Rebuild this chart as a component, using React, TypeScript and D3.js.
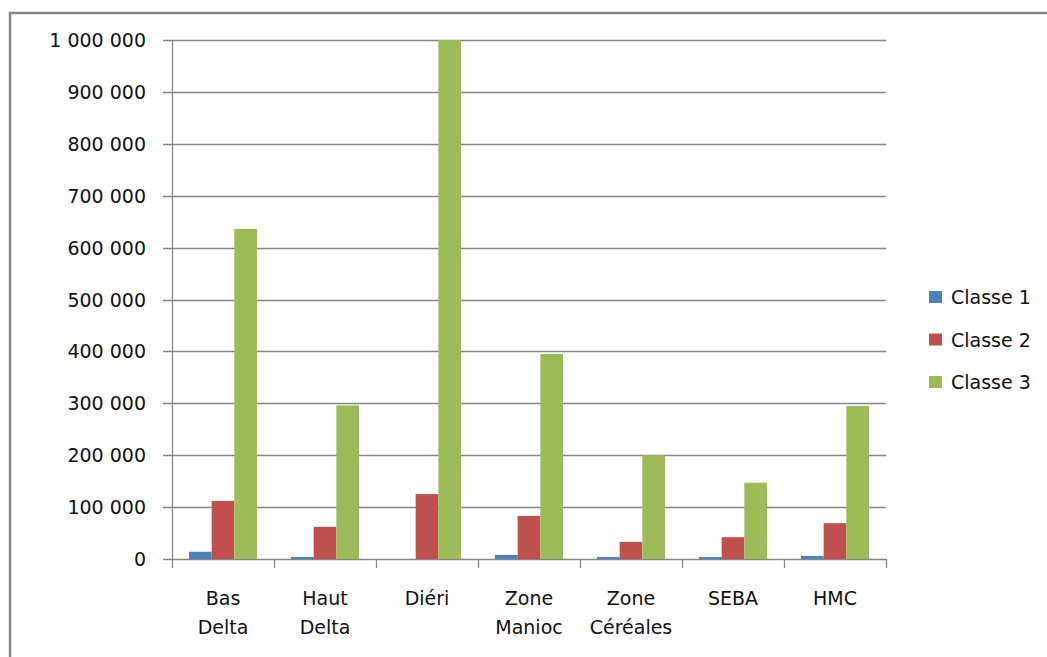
import { useEffect, useRef } from "react";
import * as d3 from "d3";

const categories = [
  ["Bas", "Delta"],
  ["Haut", "Delta"],
  ["Diéri"],
  ["Zone", "Manioc"],
  ["Zone", "Céréales"],
  ["SEBA"],
  ["HMC"],
];
const seriesNames = ["Classe 1", "Classe 2", "Classe 3"];
const classe1 = [14000, 4000, 0, 8000, 4000, 4000, 6000];
const classe2 = [112000, 62000, 125000, 83000, 33000, 42000, 69000];
const classe3 = [636000, 296000, 1000000, 395000, 200000, 147000, 295000];
const yTicks = [0, 100000, 200000, 300000, 400000, 500000, 600000, 700000, 800000, 900000, 1000000];
const colors = ["#4F81BD", "#C0504D", "#9BBB59"];

const App = () => {
  const chartRef = useRef<SVGSVGElement>(null);

  useEffect(() => {
    const width = 1047;
    const height = 657;
    const plot = { left: 172, right: 886, top: 40, bottom: 559 };
    const gridColor = "#868686";
    const font = "'DejaVu Sans', sans-serif";

    const svg = d3.select(chartRef.current);
    svg.selectAll("*").remove();

    // outer frame (only top and left edges are visible)
    svg
      .append("path")
      .attr("d", `M10,${height} L10,13 L${width},13`)
      .attr("fill", "none")
      .attr("stroke", gridColor)
      .attr("stroke-width", 2.5);

    const labels = categories.map((c) => c.join(" "));
    const x = d3.scaleBand().domain(labels).range([plot.left, plot.right]).padding(0);
    const bw = x.bandwidth();
    // gap width 150%: 3 bars + 1.5 bar of gap in each category
    const barW = bw / 4.5;
    const offset = (bw - barW * 3) / 2;
    const xs = d3.scaleBand().domain(seriesNames).range([offset, offset + barW * 3]);

    const y = d3.scaleLinear().domain([0, 1000000]).range([plot.bottom, plot.top]);

    // gridlines
    svg
      .selectAll(".grid")
      .data(yTicks)
      .enter()
      .append("line")
      .attr("x1", plot.left - 9)
      .attr("x2", plot.right)
      .attr("y1", (d) => Math.round(y(d)) + 0.5)
      .attr("y2", (d) => Math.round(y(d)) + 0.5)
      .attr("stroke", gridColor)
      .attr("stroke-width", 1.3);

    // y labels
    svg
      .selectAll(".ylab")
      .data(yTicks)
      .enter()
      .append("text")
      .attr("x", 146)
      .attr("y", (d) => y(d) + 7)
      .attr("text-anchor", "end")
      .attr("font-family", font)
      .attr("font-size", 19)
      .attr("fill", "#111")
      .attr("xml:space", "preserve")
      .text((d) => d3.format(",")(d).replace(/,/g, " "));

    // category boundary ticks
    const bounds = d3.range(labels.length + 1).map((i) => plot.left + i * bw);
    svg
      .selectAll(".xtick")
      .data(bounds)
      .enter()
      .append("line")
      .attr("x1", (d) => Math.round(d) + 0.5)
      .attr("x2", (d) => Math.round(d) + 0.5)
      .attr("y1", (d, i) => (i === 0 ? plot.top : plot.bottom))
      .attr("y2", 568)
      .attr("stroke", gridColor)
      .attr("stroke-width", 1.3);

    // bars
    const series = [classe1, classe2, classe3];
    series.forEach((vals, si) => {
      svg
        .selectAll(`.bar${si}`)
        .data(vals)
        .enter()
        .append("rect")
        .attr("x", (d, i) => x(labels[i])! + xs(seriesNames[si])!)
        .attr("y", (d) => y(d))
        .attr("width", xs.bandwidth())
        .attr("height", (d) => plot.bottom - y(d))
        .attr("fill", colors[si]);
    });

    // x labels
    categories.forEach((lines, i) => {
      const t = svg
        .append("text")
        .attr("text-anchor", "middle")
        .attr("font-family", font)
        .attr("font-size", 19)
        .attr("fill", "#111");
      lines.forEach((ln, j) => {
        t.append("tspan")
          .attr("x", x(labels[i])! + bw / 2)
          .attr("y", 605 + j * 29)
          .text(ln);
      });
    });

    // legend
    const lg = svg
      .selectAll(".legend")
      .data(seriesNames)
      .enter()
      .append("g")
      .attr("transform", (d, i) => `translate(929,${291 + i * 42.5})`);
    lg.append("rect").attr("width", 13).attr("height", 12).attr("fill", (d, i) => colors[i]);
    lg.append("text")
      .attr("x", 22)
      .attr("y", 13)
      .attr("font-family", font)
      .attr("font-size", 19)
      .attr("fill", "#111")
      .text((d) => d);
  }, []);

  return (
    <svg
      ref={chartRef}
      width={1047}
      height={657}
      style={{ position: "absolute", left: 0, top: 0, background: "#fff" }}
    />
  );
};

export default App;
